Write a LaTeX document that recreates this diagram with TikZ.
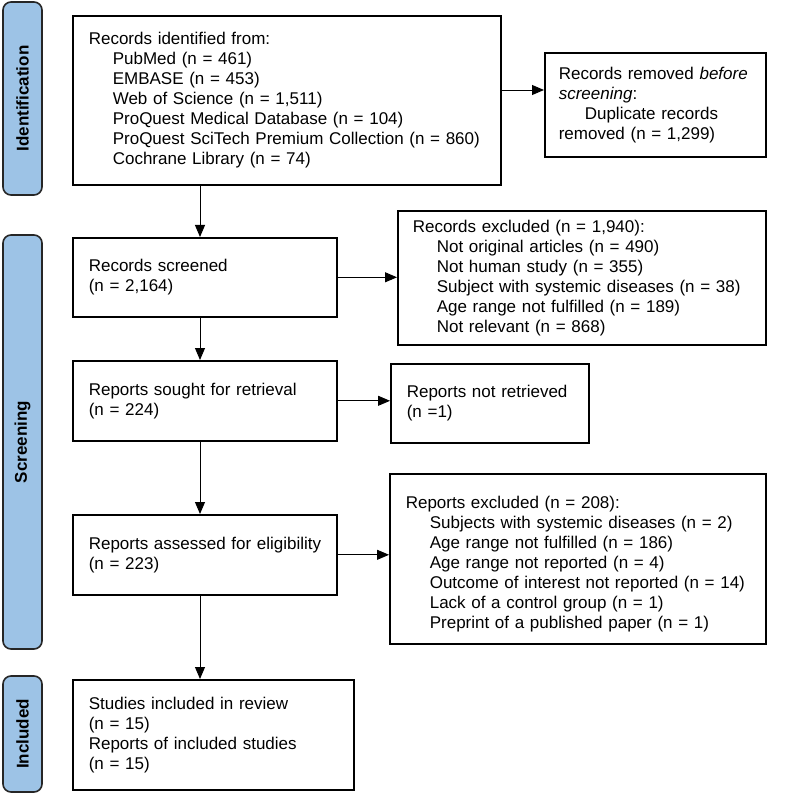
\documentclass[tikz,border=0pt]{standalone}
\usepackage{fontspec}
\setmainfont{Liberation Sans}
\usetikzlibrary{arrows.meta}
\definecolor{barblue}{HTML}{9DC3E6}
\definecolor{bardraw}{HTML}{262626}
\newcommand{\indline}[1]{\hspace*{24pt}\mbox{#1}}
\begin{document}
\begin{tikzpicture}[x=1pt,y=-1pt,
  box/.style={draw=black, line width=1.6pt, anchor=north west, align=left,
    inner xsep=16pt, inner ysep=0pt, font=\fontsize{17}{20}\selectfont},
  bar/.style={draw=bardraw, fill=barblue, line width=1.6pt, rounded corners=8pt,
    rotate=90, minimum height=39pt, inner sep=0pt,
    font=\fontsize{17}{20}\selectfont\bfseries},
  arr/.style={draw=black, line width=0.9pt, -{Triangle[length=12pt,width=10pt]}}]
\useasboundingbox (0,0) rectangle (789,794);
% side bars
\node[bar, minimum width=193pt] (bident) at (22.5,98.5) {Identification};
\node[bar, minimum width=414pt] (bscreen) at (22.5,442) {Screening};
\node[bar, minimum width=116pt] (bincl) at (22.5,734) {Included};
% boxes
\node[box, minimum width=428pt, minimum height=169pt, text width=396pt] (ident) at (72,15)
 {Records identified from:\\
  \indline{PubMed (n = 461)}\\
  \indline{EMBASE (n = 453)}\\
  \indline{Web of Science (n = 1,511)}\\
  \indline{ProQuest Medical Database (n = 104)}\\
  \indline{ProQuest SciTech Premium Collection (n = 860)}\\
  \indline{Cochrane Library (n = 74)}};
\node[box, minimum width=221pt, minimum height=104pt, text width=193pt, inner xsep=14pt] (removed) at (544,52)
 {\mbox{Records removed \emph{before}}\\
  \emph{screening}:\\
  \hspace*{26pt}Duplicate records\\
  removed (n = 1,299)\\[6pt]};
\node[box, minimum width=264pt, minimum height=79pt, text width=232pt] (screened) at (72,237)
 {Records screened\\(n = 2,164)};
\node[box, minimum width=368pt, minimum height=134pt, text width=338pt, inner xsep=15pt] (excluded) at (397,210)
 {Records excluded (n = 1,940):\\
  \indline{Not original articles (n = 490)}\\
  \indline{Not human study (n = 355)}\\
  \indline{Subject with systemic diseases (n = 38)}\\
  \indline{Age range not fulfilled (n = 189)}\\
  \indline{Not relevant (n = 868)}};
\node[box, minimum width=264pt, minimum height=80pt, text width=232pt] (sought) at (72,360)
 {Reports sought for retrieval\\(n = 224)};
\node[box, minimum width=198pt, minimum height=79pt, text width=166pt] (notret) at (390,363)
 {Reports not retrieved\\(n =1)};
\node[box, minimum width=264pt, minimum height=80pt, text width=232pt] (assessed) at (72,514)
 {\mbox{Reports assessed for eligibility}\\(n = 223)};
\node[box, minimum width=376pt, minimum height=170pt, text width=344pt] (rexcl) at (389,473)
 {\rule{0pt}{22pt}Reports excluded (n = 208):\\
  \indline{Subjects with systemic diseases (n = 2)}\\
  \indline{Age range not fulfilled (n = 186)}\\
  \indline{Age range not reported (n = 4)}\\
  \indline{Outcome of interest not reported (n = 14)}\\
  \indline{Lack of a control group (n = 1)}\\
  \indline{Preprint of a published paper (n = 1)}};
\node[box, minimum width=281pt, minimum height=110pt, text width=249pt] (included) at (72,679)
 {Studies included in review\\(n = 15)\\Reports of included studies\\(n = 15)};
% connectors
\coordinate (cx) at (200,0);
\coordinate (ry) at (0,90);
\draw[arr] (ident.south -| cx) -- (screened.north -| cx);
\draw[arr] (ident.east |- ry) -- (removed.west |- ry);
\draw[arr] (screened.east) -- (excluded.west |- screened.east);
\draw[arr] (screened.south -| cx) -- (sought.north -| cx);
\draw[arr] (sought.east) -- (notret.west |- sought.east);
\draw[arr] (sought.south -| cx) -- (assessed.north -| cx);
\draw[arr] (assessed.east) -- (rexcl.west |- assessed.east);
\draw[arr] (assessed.south -| cx) -- (included.north -| cx);
\end{tikzpicture}
\end{document}
